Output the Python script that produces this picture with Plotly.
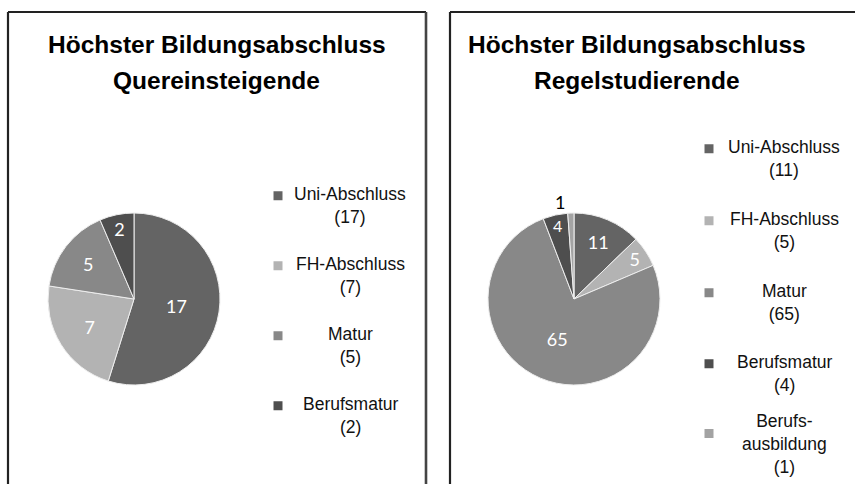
import plotly.graph_objects as go

# ---------------- data ----------------
title_left = ["Höchster Bildungsabschluss", "Quereinsteigende"]
title_right = ["Höchster Bildungsabschluss", "Regelstudierende"]

labels_left = ["Uni-Abschluss", "FH-Abschluss", "Matur", "Berufsmatur"]
values_left = [17, 7, 5, 2]

labels_right = ["Uni-Abschluss", "FH-Abschluss", "Matur", "Berufsmatur", "Berufs-<br>ausbildung"]
values_right = [11, 5, 65, 4, 1]

# ---------------- style ----------------
W, H = 855, 484
colors_left = ["#646464", "#b3b3b3", "#888888", "#4e4e4e"]
colors_right = ["#646464", "#b3b3b3", "#888888", "#4e4e4e", "#a3a3a3"]
textpos_right = ["inside", "inside", "inside", "inside", "outside"]


def fx(px):
    return px / W


def fy(py):
    return 1 - py / H


fig = go.Figure()

R = 86
CY = 299
fig.add_trace(go.Pie(
    labels=labels_left, values=values_left, sort=False, direction="clockwise",
    rotation=0, marker=dict(colors=colors_left, line=dict(color="#eeeeee", width=1)),
    textinfo="value", textposition="inside", insidetextorientation="horizontal",
    insidetextfont=dict(family="Lato", size=18, color="white"),
    domain=dict(x=[fx(134 - R), fx(134 + R)], y=[fy(CY + R), fy(CY - R)]),
    showlegend=False, hoverinfo="label+value",
))
fig.add_trace(go.Pie(
    labels=labels_right, values=values_right, sort=False, direction="clockwise",
    rotation=0, marker=dict(colors=colors_right, line=dict(color="#eeeeee", width=1)),
    textinfo="value", textposition=textpos_right, insidetextorientation="horizontal",
    insidetextfont=dict(family="Lato", size=18, color="white"),
    outsidetextfont=dict(family="Lato", size=18, color="black"),
    domain=dict(x=[fx(574 - R), fx(574 + R)], y=[fy(CY + R), fy(CY - R)]),
    showlegend=False, hoverinfo="label+value",
))

annotations = []
shapes = []

# titles
for lines, cx in ((title_left, 217), (title_right, 637)):
    for ln, cyy in zip(lines, (45, 80)):
        annotations.append(dict(
            text="<b>%s</b>" % ln, x=fx(cx), y=fy(cyy), xref="paper", yref="paper",
            xanchor="center", yanchor="middle", showarrow=False,
            font=dict(family="Liberation Sans", size=24.5, color="black"),
        ))

# custom centered legends
LH = 21.5  # line height px
legend_specs = [
    (labels_left, values_left, colors_left, 278, 350, [195, 265, 335, 405]),
    (labels_right, values_right, colors_right, 709, 784, [148, 220, 292, 363, 422]),
]
for labs, vals, cols, sqx, tx, firsts in legend_specs:
    for lab, val, col, first in zip(labs, vals, cols, firsts):
        text = "%s<br>(%d)" % (lab, val)
        nlines = text.count("<br>") + 1
        block_c = first + (nlines - 1) * LH / 2
        annotations.append(dict(
            text=text, x=fx(tx), y=fy(block_c), xref="paper", yref="paper",
            xanchor="center", yanchor="middle", align="center", showarrow=False,
            font=dict(family="Liberation Sans", size=17.5, color="#111111"),
        ))
        sy = block_c - 10
        shapes.append(dict(
            type="rect", xref="paper", yref="paper",
            x0=fx(sqx - 4.5), x1=fx(sqx + 4.5), y0=fy(sy + 4.5), y1=fy(sy - 4.5),
            fillcolor=col, line=dict(width=0),
        ))

# frames
fc = "#222222"
fw = 2.2
for x0, x1, right in ((8, 426, True), (450, 870, False)):
    shapes.append(dict(type="line", xref="paper", yref="paper",
                       x0=fx(x0), x1=fx(x1), y0=fy(12), y1=fy(12),
                       line=dict(color=fc, width=fw)))
    shapes.append(dict(type="line", xref="paper", yref="paper",
                       x0=fx(x0), x1=fx(x0), y0=fy(12), y1=fy(490),
                       line=dict(color=fc, width=fw)))
    if right:
        shapes.append(dict(type="line", xref="paper", yref="paper",
                           x0=fx(x1), x1=fx(x1), y0=fy(12), y1=fy(490),
                           line=dict(color="#444444", width=2.6)))

fig.update_layout(
    width=W, height=H, margin=dict(l=0, r=0, t=0, b=0),
    paper_bgcolor="white", plot_bgcolor="white",
    annotations=annotations, shapes=shapes,
)

fig.write_html(
    "out.html",
    config={"displayModeBar": False},
    post_script="document.body.style.margin='0';document.body.style.overflow='hidden';",
)
